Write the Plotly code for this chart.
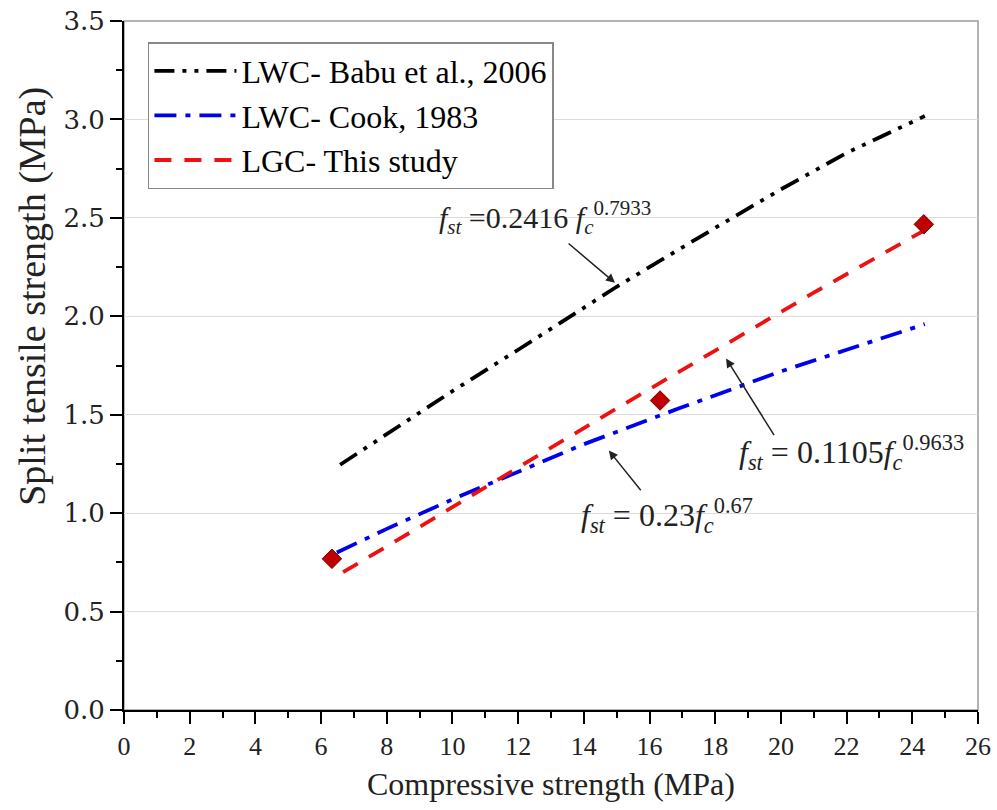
import plotly.graph_objects as go

# Compressive strength (MPa) vs split tensile strength (MPa)
babu_fc = [6.58, 8.0, 10.0, 12.0, 15.0, 17.5, 20.0, 22.0, 24.38]
babu_fst = [1.246, 1.40, 1.62, 1.83, 2.15, 2.40, 2.645, 2.83, 3.017]

cook_fc = [6.48, 8.0, 10.0, 12.0, 14.0, 16.86, 18.0, 20.0, 22.0, 24.38]
cook_fst = [0.80, 0.92, 1.07, 1.21, 1.35, 1.53, 1.60, 1.72, 1.83, 1.96]

lgc_fc = [6.67, 9.0, 12.0, 15.0, 18.0, 21.0, 24.3]
lgc_fst = [0.70, 0.93, 1.232, 1.532, 1.826, 2.12, 2.43]

test_fc = [6.33, 16.32, 24.35]
test_fst = [0.768, 1.572, 2.467]

x_ticks = list(range(0, 27, 2))
y_ticks = [0.0, 0.5, 1.0, 1.5, 2.0, 2.5, 3.0, 3.5]

SERIF = "Liberation Serif, Times New Roman, serif"
WIDE_SERIF = "DejaVu Serif, serif"

fig = go.Figure()

fig.add_trace(go.Scatter(
    x=babu_fc, y=babu_fst, mode="lines", name="LWC- Babu et al., 2006",
    line=dict(color="black", width=3.8, dash="20px,8px,4px,8px,4px,8px"),
))
fig.add_trace(go.Scatter(
    x=cook_fc, y=cook_fst, mode="lines", name="LWC- Cook, 1983",
    line=dict(color="#0000ee", width=3.8, dash="22px,9px,5px,9px"),
))
fig.add_trace(go.Scatter(
    x=lgc_fc, y=lgc_fst, mode="lines", name="LGC- This study",
    line=dict(color="#ee1111", width=3.8, dash="17px,13px"),
))
fig.add_trace(go.Scatter(
    x=test_fc, y=test_fst, mode="markers", showlegend=False,
    marker=dict(symbol="diamond", size=15, color="#c00000",
                line=dict(color="#7a0000", width=1)),
))

# Plot frame (grey top/right edges)
fig.add_shape(type="rect", xref="paper", yref="paper", x0=0, y0=0, x1=1, y1=1,
              line=dict(color="#9a9a9a", width=1.5), layer="below")

# Y-axis title, placed as a rotated label
fig.add_annotation(x=-0.1075, y=0.6, xref="paper", yref="paper",
                   text="Split tensile strength (MPa)", textangle=-90,
                   showarrow=False, xanchor="center", yanchor="middle",
                   font=dict(family=SERIF, size=38, color="#222222"))

# Formula labels
labels = [
    dict(x=12.82, y=2.50, size=30,
         text="<i>f</i><sub><i>st</i></sub> =0.2416 <i>f</i><sub><i>c</i></sub><sup>0.7933</sup>"),
    dict(x=16.53, y=0.99, size=32,
         text="<i>f</i><sub><i>st</i></sub> = 0.23<i>f</i><sub><i>c</i></sub><sup>0.67</sup>"),
    dict(x=22.16, y=1.31, size=32,
         text="<i>f</i><sub><i>st</i></sub> = 0.1105<i>f</i><sub><i>c</i></sub><sup>0.9633</sup>"),
]
for lb in labels:
    fig.add_annotation(x=lb["x"], y=lb["y"], xref="x", yref="y", text=lb["text"],
                       showarrow=False, xanchor="center", yanchor="middle",
                       font=dict(family=SERIF, size=lb["size"], color="#222222"))

# Leader arrows: (tail_x, tail_y, head_x, head_y)
arrows = [
    (13.49, 2.376, 14.95, 2.17),
    (15.77, 1.109, 14.76, 1.318),
    (19.82, 1.389, 18.33, 1.786),
]
for tx, ty, hx, hy in arrows:
    fig.add_annotation(x=hx, y=hy, ax=tx, ay=ty, xref="x", yref="y",
                       axref="x", ayref="y", text="", showarrow=True,
                       arrowhead=2, arrowsize=1.2, arrowwidth=1.5,
                       arrowcolor="#222222")

fig.update_layout(
    width=997, height=810,
    margin=dict(l=124, r=19, t=21, b=100, autoexpand=False),
    paper_bgcolor="white", plot_bgcolor="white",
    font=dict(family=SERIF, color="black"),
    showlegend=True,
    legend=dict(
        x=0.028, y=0.9695, xanchor="left", yanchor="top",
        bgcolor="white", bordercolor="#888888", borderwidth=1.5,
        font=dict(family=SERIF, size=32, color="black"),
        itemwidth=82, tracegroupgap=0,
    ),
    xaxis=dict(
        range=[0, 26], tickvals=x_ticks, ticktext=[str(v) for v in x_ticks],
        automargin=False,
        showgrid=False, zeroline=False,
        showline=True, linecolor="black", linewidth=2,
        ticks="outside", ticklen=12, tickwidth=2, tickcolor="black",
        minor=dict(dtick=1, ticks="outside", ticklen=6, tickwidth=2,
                   tickcolor="black", showgrid=False),
        tickfont=dict(family=SERIF, size=26, color="#222222"),
        title=dict(text="Compressive strength (MPa)", standoff=12,
                   font=dict(family=SERIF, size=32, color="#222222")),
    ),
    yaxis=dict(
        range=[0, 3.5], tickvals=y_ticks, ticktext=[f"{v:.1f}" for v in y_ticks],
        automargin=False,
        showgrid=True, gridcolor="#dcdcdc", gridwidth=1, zeroline=False,
        showline=True, linecolor="black", linewidth=2,
        ticks="outside", ticklen=12, tickwidth=2, tickcolor="black",
        minor=dict(dtick=0.25, ticks="outside", ticklen=6, tickwidth=2,
                   tickcolor="black", showgrid=False),
        tickfont=dict(family=WIDE_SERIF, size=26, color="#222222"),
    ),
)

fig.write_html("out.html")
